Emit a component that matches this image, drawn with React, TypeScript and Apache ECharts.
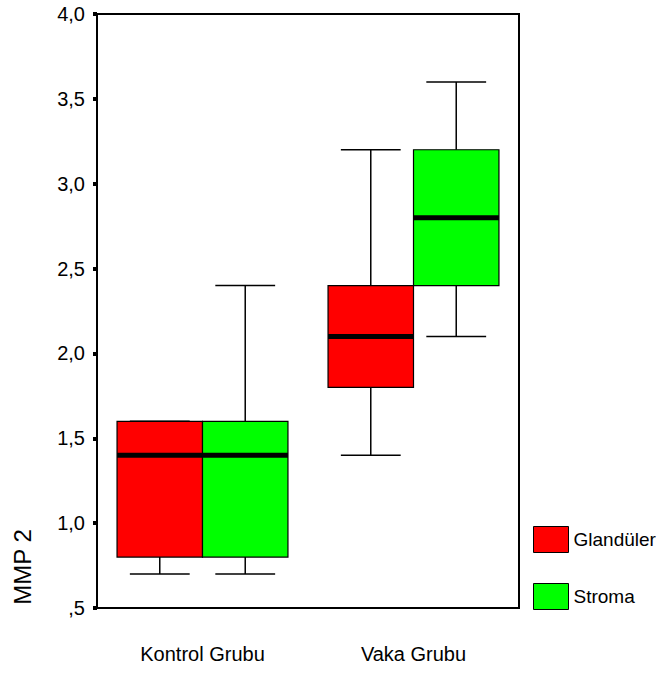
import React, { useEffect, useRef } from "react";
import * as echarts from "echarts";

const categories = ["Kontrol Grubu", "Vaka Grubu"];
const seriesNames = ["Glandüler", "Stroma"];
// [min, q1, median, q3, max]
const glanduler = [
  [0.7, 0.8, 1.4, 1.6, 1.6],
  [1.4, 1.8, 2.1, 2.4, 3.2],
];
const stroma = [
  [0.7, 0.8, 1.4, 1.6, 2.4],
  [2.1, 2.4, 2.8, 3.2, 3.6],
];
const colors = ["#FF0000", "#00FF00"];
const yTicks = { min: 0.5, max: 4.0, interval: 0.5 };

const FONT = "Liberation Sans, Arial, sans-serif";

function makeRender(side: number, color: string) {
  return (params: any, api: any) => {
    const cat = api.value(0);
    const vmin = api.value(1);
    const q1 = api.value(2);
    const med = api.value(3);
    const q3 = api.value(4);
    const vmax = api.value(5);
    const center = api.coord([cat, med])[0];
    const band = api.size([1, 0])[0];
    const boxW = band * 0.405;
    const x0 = side < 0 ? center - boxW : center;
    const x1 = x0 + boxW;
    const cx = (x0 + x1) / 2;
    const capW = boxW * 0.7;
    const yMin = api.coord([cat, vmin])[1];
    const yQ1 = api.coord([cat, q1])[1];
    const yMed = api.coord([cat, med])[1];
    const yQ3 = api.coord([cat, q3])[1];
    const yMax = api.coord([cat, vmax])[1];
    const ls = { stroke: "#000", lineWidth: 1.5 };
    return {
      type: "group",
      children: [
        { type: "line", shape: { x1: cx, y1: yMax, x2: cx, y2: yQ3 }, style: ls },
        { type: "line", shape: { x1: cx, y1: yQ1, x2: cx, y2: yMin }, style: ls },
        { type: "line", shape: { x1: cx - capW / 2, y1: yMax, x2: cx + capW / 2, y2: yMax }, style: ls },
        { type: "line", shape: { x1: cx - capW / 2, y1: yMin, x2: cx + capW / 2, y2: yMin }, style: ls },
        {
          type: "rect",
          shape: { x: x0, y: yQ3, width: boxW, height: yQ1 - yQ3 },
          style: { fill: color, stroke: "#000", lineWidth: 1.2 },
        },
        { type: "line", shape: { x1: x0, y1: yMed, x2: x1, y2: yMed }, style: { stroke: "#000", lineWidth: 5 } },
      ],
    };
  };
}

export default function App() {
  const ref = useRef<HTMLDivElement>(null);
  useEffect(() => {
    if (!ref.current) return;
    const chart = echarts.init(ref.current, undefined, { renderer: "svg" });
    const build = (arr: number[][]) => arr.map((d, i) => [i, ...d]);
    chart.setOption({
      animation: false,
      backgroundColor: "#fff",
      textStyle: { fontFamily: FONT },
      grid: {
        left: 97,
        top: 14,
        right: 142,
        bottom: 65,
        show: true,
        borderColor: "#000",
        borderWidth: 2,
        backgroundColor: "transparent",
      },
      legend: {
        orient: "vertical",
        left: 528,
        top: 521,
        itemWidth: 35,
        itemHeight: 26,
        itemGap: 30,
        icon: "rect",
        textStyle: { fontSize: 19, color: "#000", fontFamily: FONT },
        itemStyle: { borderColor: "#000", borderWidth: 1 },
        data: seriesNames,
      },
      xAxis: {
        type: "category",
        data: categories,
        boundaryGap: true,
        axisLine: { lineStyle: { color: "#000", width: 2 } },
        axisTick: { alignWithLabel: true, length: 4, lineStyle: { color: "#000", width: 4 } },
        axisLabel: { color: "#000", fontSize: 20, margin: 36, fontFamily: FONT },
        splitLine: { show: false },
      },
      yAxis: {
        type: "value",
        min: yTicks.min,
        max: yTicks.max,
        interval: yTicks.interval,
        axisLine: { show: true, lineStyle: { color: "#000", width: 2 } },
        axisTick: { show: true, length: 4, lineStyle: { color: "#000", width: 4 } },
        axisLabel: {
          color: "#000",
          fontSize: 20,
          margin: 12,
          fontFamily: FONT,
          formatter: (v: number) => {
            const s = v.toFixed(1).replace(".", ",");
            return s.startsWith("0") ? s.slice(1) : s;
          },
        },
        splitLine: { show: false },
      },
      graphic: [
        {
          type: "text",
          x: 22,
          y: 567,
          rotation: Math.PI / 2,
          style: {
            text: "MMP 2",
            fontSize: 24,
            fontFamily: FONT,
            fill: "#000",
            textAlign: "center",
            textVerticalAlign: "middle",
          },
        },
      ],
      series: [
        {
          name: seriesNames[0],
          type: "custom",
          renderItem: makeRender(-1, colors[0]),
          itemStyle: { color: colors[0], borderColor: "#000", borderWidth: 1 },
          encode: { x: 0, y: [1, 2, 3, 4, 5] },
          data: build(glanduler),
        },
        {
          name: seriesNames[1],
          type: "custom",
          renderItem: makeRender(1, colors[1]),
          itemStyle: { color: colors[1], borderColor: "#000", borderWidth: 1 },
          encode: { x: 0, y: [1, 2, 3, 4, 5] },
          data: build(stroma),
        },
      ],
    });
    return () => chart.dispose();
  }, []);
  return <div ref={ref} style={{ width: 661, height: 673, position: "absolute", left: 0, top: 0 }} />;
}
